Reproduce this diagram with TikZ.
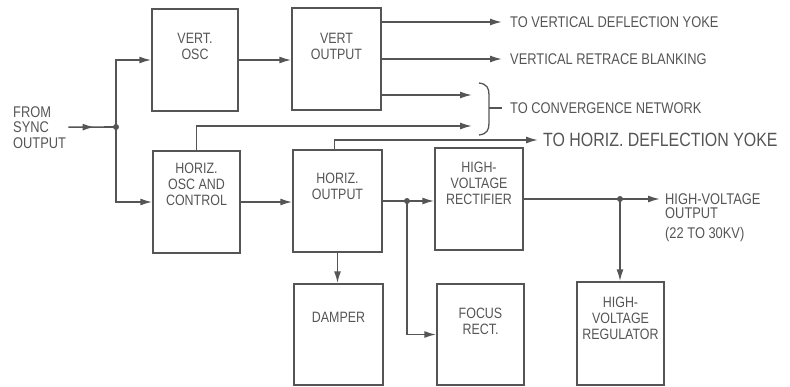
\documentclass[tikz,border=0pt]{standalone}
\usepackage{fontspec}
\setmainfont{Liberation Sans}[FakeStretch=0.83]
\usetikzlibrary{arrows.meta,decorations.markings,calc}
\definecolor{inkc}{HTML}{555555}
\begin{document}
\begin{tikzpicture}[x=1pt,y=-1pt,
  ink/.style={color=inkc, line width=1.6pt},
  box/.style={draw=inkc, line width=1.4pt, inner sep=0pt},
  lbl/.style={text=inkc, inner sep=0pt, font=\fontsize{15}{16}\selectfont, align=center, anchor=north},
  side/.style={text=inkc, inner sep=0pt, font=\fontsize{15.5}{15.5}\selectfont, anchor=west},
  tip/.style={-{Latex[length=12pt,width=7pt]}},
  arr/.style={ink, tip},
  midarr/.style={ink, postaction={decorate}, decoration={markings, mark=at position #1 with {\arrow{Latex[length=12pt,width=7pt]}}}},
  dot/.style={circle, fill=inkc, inner sep=0pt, minimum size=6pt}
]
\useasboundingbox (0,0) rectangle (790,386);

% boxes
\node[box, minimum width=86pt, minimum height=102pt] (vosc) at (195,60) {};
\node[box, minimum width=89pt, minimum height=102pt] (vout) at (336.5,59) {};
\node[box, minimum width=87pt, minimum height=102pt] (hosc) at (196.5,202) {};
\node[box, minimum width=89pt, minimum height=102pt] (hout) at (337.5,201) {};
\node[box, minimum width=88pt, minimum height=102pt] (hvr) at (479,199) {};
\node[box, minimum width=89pt, minimum height=101pt] (damp) at (338.5,334.5) {};
\node[box, minimum width=87pt, minimum height=101pt] (focus) at (480.5,334.5) {};
\node[box, minimum width=87pt, minimum height=103pt] (hvreg) at (620.5,333.5) {};

% box texts
\node[lbl] (lvosc) at (vosc.north |- 0,33) {VERT.\\OSC};
\node[lbl] (lvout) at (vout.north |- 0,33) {VERT\\OUTPUT};
\node[lbl] (lhosc) at (hosc.north |- 0,163) {HORIZ.\\OSC AND\\CONTROL};
\node[lbl] (lhout) at (hout.north |- 0,173) {HORIZ.\\OUTPUT};
\node[lbl] (lhvr) at (hvr.north |- 0,162) {HIGH-\\VOLTAGE\\RECTIFIER};
\node[lbl] (ldamp) at (damp.north |- 0,312) {DAMPER};
\node[lbl] (lfocus) at (focus.north |- 0,308) {FOCUS\\RECT.};
\node[lbl] (lhvreg) at (hvreg.north |- 0,297) {HIGH-\\VOLTAGE\\REGULATOR};

% outside texts
\node[side, anchor=north west, align=left] (fs) at (13,106) {FROM\\SYNC\\OUTPUT};
\node[side] (t1) at (510,22) {TO VERTICAL DEFLECTION YOKE};
\node[side] (t2) at (510,59) {VERTICAL RETRACE BLANKING};
\node[side] (t3) at (510,108) {TO CONVERGENCE NETWORK};
\node[side, font=\fontsize{19.2}{20}\selectfont] (t4) at (543,140) {TO HORIZ. DEFLECTION YOKE};
\node[side, anchor=north west, align=left, font=\fontsize{15.5}{14.5}\selectfont] (t5) at (665,193) {HIGH-VOLTAGE\\OUTPUT\\[5pt](22 TO 30KV)};

% junctions
\node[dot] (j1) at (116,127) {};
\node[dot] (j2) at (407,201) {};
\node[dot] (j3) at (620,199) {};

% sync input and branches
\draw[midarr=0.55] ($(fs.east)+(2,0)$) -- (j1.center);
\draw[arr] (j1.center) |- (vosc.west);
\draw[arr] (j1.center) |- (hosc.west);
\draw[arr] (vosc.east) -- (vout.west |- vosc.east);
\draw[arr] (hosc.east) -- (hout.west |- hosc.east);

% vertical output lines
\coordinate (c1) at (472,95);
\coordinate (c2) at (472,126);
\draw[arr] (vout.east |- t1.west) -- ($(t1.west)+(-8,0)$);
\draw[arr] (vout.east |- t2.west) -- ($(t2.west)+(-8,0)$);
\draw[arr] (vout.east |- c1) -- (c1);
\draw[arr] (hosc.north) |- (c2);

% brace
\coordinate (bt) at (479,83);
\coordinate (bb) at (479,135);
\coordinate (bm) at (489,108);
\draw[ink, line width=1.3pt] (bt) .. controls (487,84) and (489,88) .. (489,95) -- (489,123) .. controls (489,130) and (487,134) .. (bb);
\draw[ink, line width=1.3pt] (bm) -- ($(t3.west)+(-8,0)$);

% horizontal output lines
\draw[arr] ($(hout.north)+(-3,0)$) |- ($(t4.west)+(-5,0)$);
\draw[ink] (hout.east |- j2) -- (j2.center);
\draw[arr] (j2.center) -- (hvr.west |- j2);
\draw[arr] (j2.center) |- (focus.west);
\draw[arr] (hout.south) -- (hout.south |- damp.north);

% high voltage
\draw[ink] (hvr.east |- j3) -- (j3.center);
\draw[arr] (j3.center) -- ($(t5.west |- j3)+(-5,0)$);
\draw[arr] (j3.center) -- (j3.center |- hvreg.north);
\end{tikzpicture}
\end{document}
